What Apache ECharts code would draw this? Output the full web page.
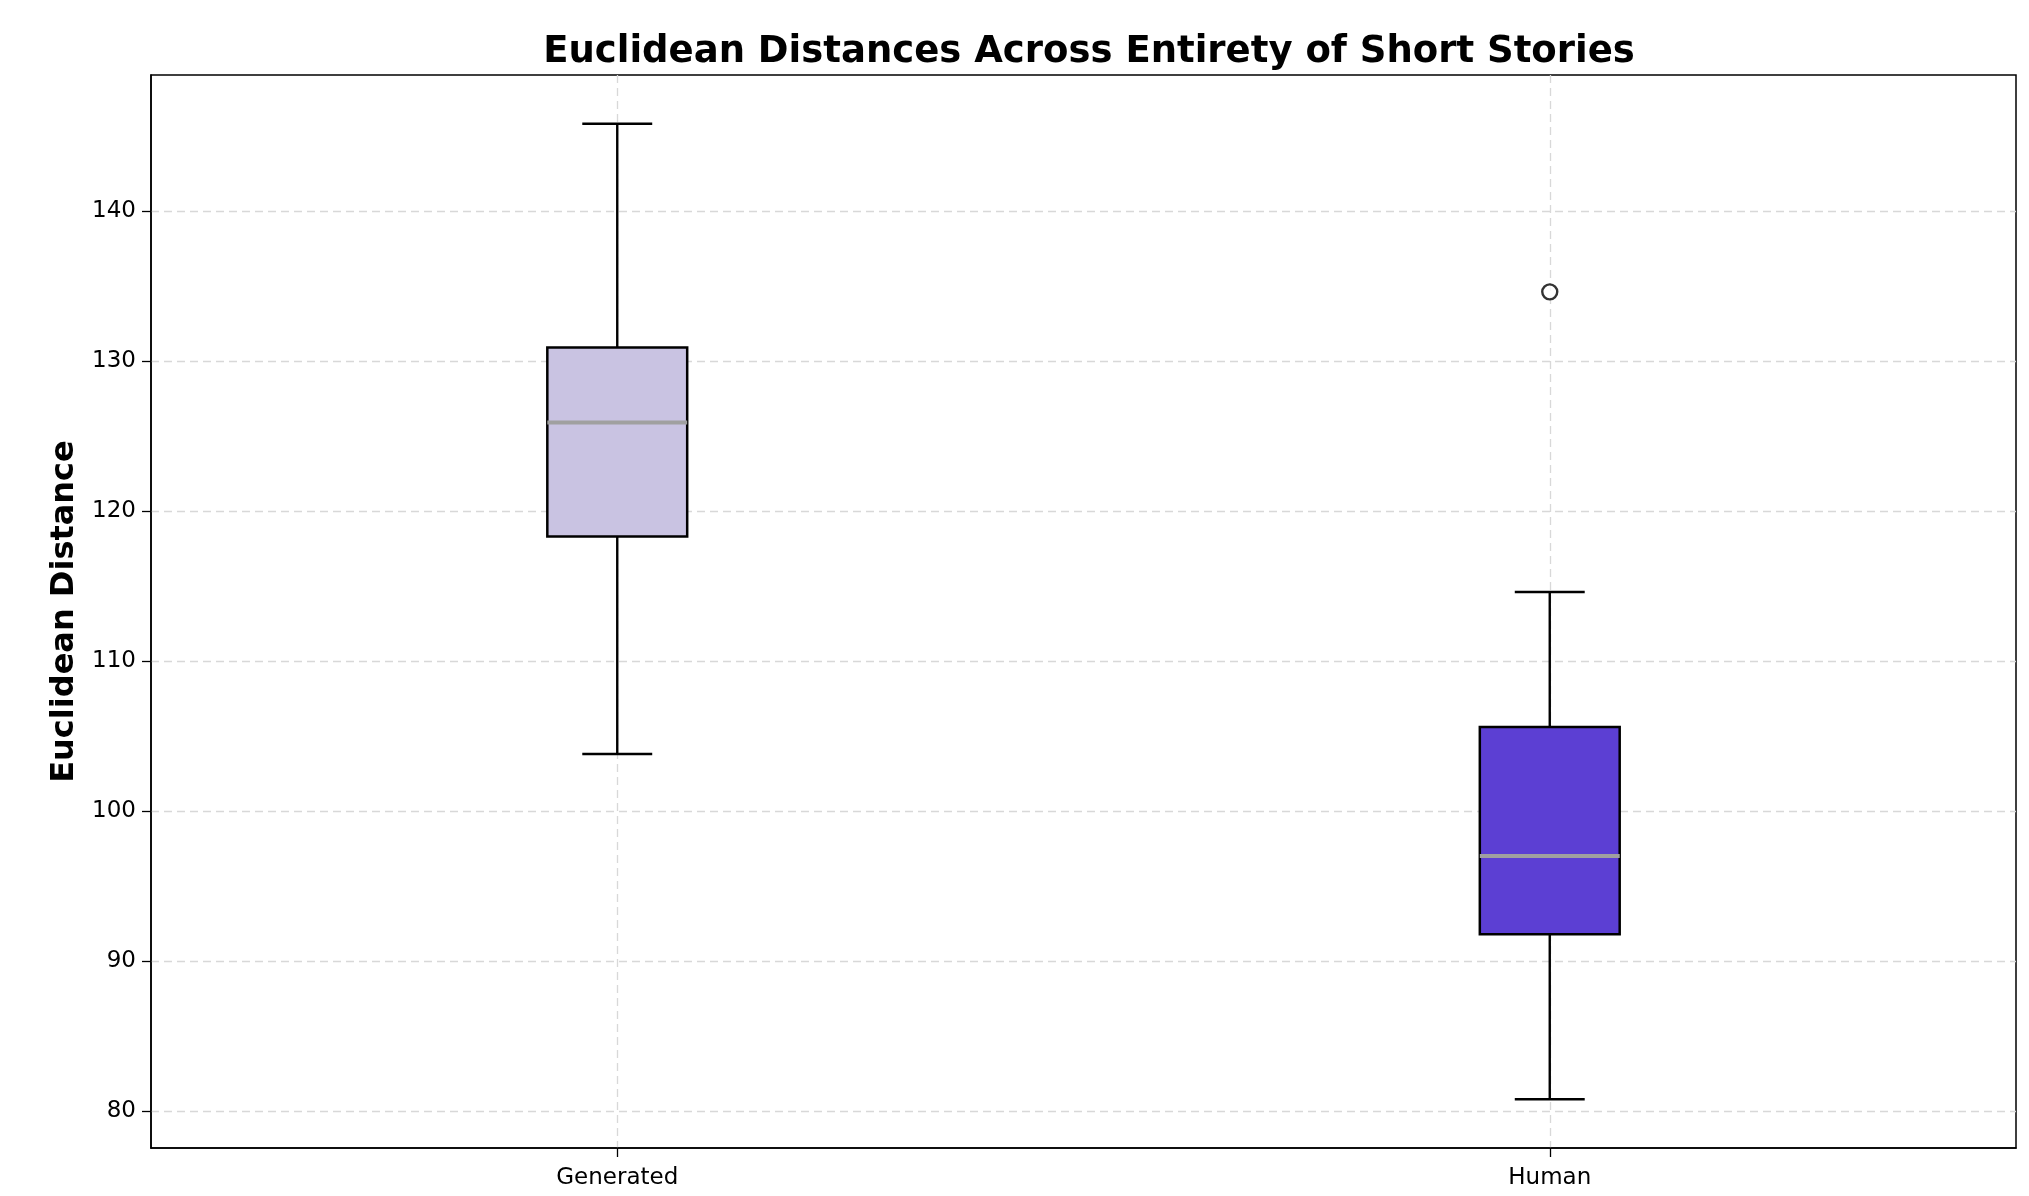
<!DOCTYPE html>
<html>
<head>
<meta charset="utf-8">
<script src="https://cdn.jsdelivr.net/npm/echarts@6/dist/echarts.min.js"></script>
<style>
  html, body { margin: 0; padding: 0; background: #ffffff; }
  #chart { width: 2029px; height: 1196px; }
</style>
</head>
<body>
<div id="chart"></div>
<script>
// Group names and five-number summaries of the distances
const categories = ['Generated', 'Human'];
const whiskerLow = [103.8, 80.8];
const q1 = [118.3, 91.8];
const median = [125.9, 97.0];
const q3 = [130.9, 105.6];
const whiskerHigh = [145.8, 114.6];
// Points beyond the whiskers: [group index, value]
const outliers = [[1, 134.6]];
const boxColors = ['#c9c3e2', '#5c3fd3'];
const yTicks = [80, 90, 100, 110, 120, 130, 140];

const FONT = 'DejaVu Sans';
const BOX_WIDTH = 0.15;   // in x-axis units
const CAP_WIDTH = 0.075;

const boxData = categories.map((c, i) => [i + 1, whiskerLow[i], q1[i], median[i], q3[i], whiskerHigh[i], i]);
const outlierData = outliers.map(o => [o[0] + 1, o[1]]);

function renderBox(params, api) {
  const x = api.value(0);
  const lo = api.coord([x, api.value(1)]);
  const b1 = api.coord([x, api.value(2)]);
  const md = api.coord([x, api.value(3)]);
  const b3 = api.coord([x, api.value(4)]);
  const hi = api.coord([x, api.value(5)]);
  const bw = api.size([BOX_WIDTH, 0])[0];
  const cw = api.size([CAP_WIDTH, 0])[0];
  const cx = lo[0];
  const line = { stroke: '#000000', lineWidth: 2.4 };
  return {
    type: 'group',
    children: [
      { type: 'line', shape: { x1: cx, y1: lo[1], x2: cx, y2: b1[1] }, style: line },
      { type: 'line', shape: { x1: cx, y1: b3[1], x2: cx, y2: hi[1] }, style: line },
      { type: 'line', shape: { x1: cx - cw / 2, y1: lo[1], x2: cx + cw / 2, y2: lo[1] }, style: line },
      { type: 'line', shape: { x1: cx - cw / 2, y1: hi[1], x2: cx + cw / 2, y2: hi[1] }, style: line },
      { type: 'rect', shape: { x: cx - bw / 2, y: b3[1], width: bw, height: b1[1] - b3[1] },
        style: { fill: boxColors[api.value(6)], stroke: '#000000', lineWidth: 2.5 } },
      { type: 'line', shape: { x1: cx - bw / 2, y1: md[1], x2: cx + bw / 2, y2: md[1] },
        style: { stroke: '#a0a0a0', lineWidth: 4 } }
    ]
  };
}

const chart = echarts.init(document.getElementById('chart'), null, { renderer: 'canvas' });
chart.setOption({
  backgroundColor: '#ffffff',
  animation: false,
  title: {
    text: 'Euclidean Distances Across Entirety of Short Stories',
    left: 1084, top: 29, textAlign: 'center',
    textStyle: { fontFamily: FONT, fontWeight: 'bold', fontSize: 37, color: '#000000' }
  },
  grid: {
    left: 151, right: 13, top: 75, bottom: 48,
    show: true, borderColor: '#000000', borderWidth: 1.5, backgroundColor: 'transparent'
  },
  xAxis: {
    type: 'value', min: 0.5, max: 2.5,
    axisLine: { show: true, lineStyle: { color: '#000000', width: 1.5 } },
    axisTick: { show: true, length: 9, customValues: [1, 2], lineStyle: { color: '#000000', width: 1.3 } },
    axisLabel: {
      customValues: [1, 2], margin: 19,
      formatter: v => categories[Math.round(v) - 1],
      fontFamily: FONT, fontSize: 23, color: '#000000'
    },
    splitLine: { show: true, lineStyle: { color: '#d8d8d8', width: 1.3, type: [8, 5] } }
  },
  yAxis: {
    type: 'value', min: 77.55, max: 149.05,
    name: 'Euclidean Distance', nameLocation: 'middle', nameGap: 70, nameRotate: 90,
    nameTextStyle: { fontFamily: FONT, fontWeight: 'bold', fontSize: 32, color: '#000000' },
    axisLine: { show: true, lineStyle: { color: '#000000', width: 1.5 } },
    axisTick: { show: true, length: 9, customValues: yTicks, lineStyle: { color: '#000000', width: 1.3 } },
    axisLabel: { customValues: yTicks, margin: 15, fontFamily: FONT, fontSize: 23, color: '#000000' },
    splitLine: { show: true, lineStyle: { color: '#d8d8d8', width: 1.3, type: [8, 5] } }
  },
  series: [
    {
      type: 'custom', name: 'box', renderItem: renderBox, data: boxData,
      encode: { x: 0, y: [1, 2, 3, 4, 5] }, z: 3
    },
    {
      type: 'scatter', name: 'outliers', data: outlierData,
      symbol: 'circle', symbolSize: 15,
      itemStyle: { color: '#ffffff', borderColor: '#000000', borderWidth: 2.4 }, z: 4
    }
  ]
});
</script>
</body>
</html>
